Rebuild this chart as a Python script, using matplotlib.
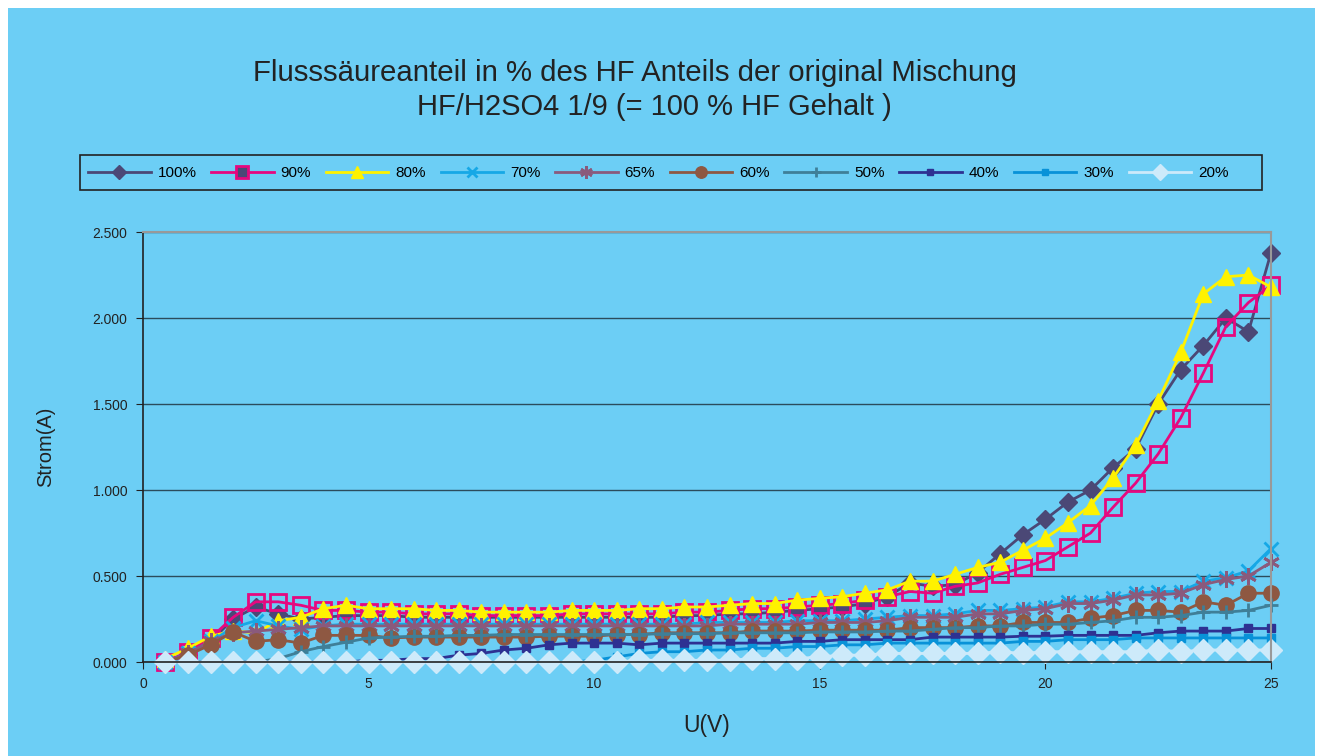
import matplotlib
matplotlib.use("Agg")
import matplotlib.pyplot as plt
from matplotlib.lines import Line2D
from matplotlib.patches import Rectangle
from matplotlib.ticker import FormatStrFormatter, MultipleLocator

plt.rcParams['font.family'] = ['Liberation Sans', 'DejaVu Sans']

# voltage steps (V)
u = [0.5, 1.0, 1.5, 2.0, 2.5, 3.0, 3.5, 4.0, 4.5, 5.0,
     5.5, 6.0, 6.5, 7.0, 7.5, 8.0, 8.5, 9.0, 9.5, 10.0,
     10.5, 11.0, 11.5, 12.0, 12.5, 13.0, 13.5, 14.0, 14.5, 15.0,
     15.5, 16.0, 16.5, 17.0, 17.5, 18.0, 18.5, 19.0, 19.5, 20.0,
     20.5, 21.0, 21.5, 22.0, 22.5, 23.0, 23.5, 24.0, 24.5, 25.0]

# current (A) per HF share
i100 = [0.00, 0.04, 0.12, 0.25, 0.32, 0.28, 0.25, 0.26, 0.27, 0.27,
        0.27, 0.26, 0.26, 0.26, 0.26, 0.26, 0.26, 0.26, 0.26, 0.26,
        0.26, 0.26, 0.26, 0.27, 0.27, 0.28, 0.28, 0.29, 0.30, 0.31,
        0.32, 0.34, 0.38, 0.46, 0.44, 0.45, 0.52, 0.63, 0.74, 0.83,
        0.93, 1.00, 1.13, 1.24, 1.50, 1.70, 1.84, 2.00, 1.92, 2.38]
i90 = [0.00, 0.06, 0.14, 0.26, 0.35, 0.35, 0.33, 0.30, 0.30, 0.29,
       0.29, 0.28, 0.28, 0.28, 0.27, 0.27, 0.27, 0.27, 0.28, 0.28,
       0.28, 0.28, 0.28, 0.29, 0.29, 0.30, 0.31, 0.31, 0.32, 0.33,
       0.34, 0.36, 0.38, 0.41, 0.40, 0.44, 0.46, 0.51, 0.55, 0.59,
       0.67, 0.75, 0.90, 1.04, 1.21, 1.42, 1.68, 1.95, 2.09, 2.19]
i80 = [0.02, 0.08, 0.15, 0.18, 0.17, 0.24, 0.26, 0.31, 0.33, 0.31,
       0.31, 0.31, 0.30, 0.30, 0.29, 0.29, 0.29, 0.29, 0.30, 0.30,
       0.30, 0.31, 0.31, 0.32, 0.32, 0.33, 0.34, 0.34, 0.36, 0.37,
       0.38, 0.40, 0.42, 0.47, 0.47, 0.51, 0.55, 0.58, 0.65, 0.72,
       0.81, 0.91, 1.07, 1.26, 1.52, 1.80, 2.14, 2.24, 2.25, 2.18]
i70 = [0.00, 0.05, 0.12, 0.20, 0.24, 0.21, 0.19, 0.21, 0.22, 0.22,
       0.22, 0.22, 0.22, 0.22, 0.22, 0.22, 0.22, 0.22, 0.22, 0.22,
       0.22, 0.22, 0.22, 0.22, 0.23, 0.23, 0.23, 0.23, 0.24, 0.24,
       0.24, 0.25, 0.26, 0.27, 0.27, 0.28, 0.30, 0.30, 0.31, 0.32,
       0.35, 0.35, 0.37, 0.40, 0.41, 0.41, 0.47, 0.49, 0.53, 0.66]
i65 = [0.00, 0.05, 0.12, 0.17, 0.18, 0.19, 0.20, 0.21, 0.21, 0.21,
       0.21, 0.21, 0.21, 0.21, 0.21, 0.21, 0.21, 0.21, 0.21, 0.21,
       0.21, 0.21, 0.21, 0.21, 0.21, 0.22, 0.22, 0.22, 0.22, 0.23,
       0.23, 0.23, 0.24, 0.26, 0.26, 0.26, 0.28, 0.28, 0.30, 0.31,
       0.34, 0.34, 0.36, 0.39, 0.39, 0.40, 0.45, 0.48, 0.50, 0.58]
i60 = [0.00, 0.04, 0.10, 0.175, 0.12, 0.13, 0.11, 0.155, 0.155, 0.155,
       0.14, 0.145, 0.145, 0.145, 0.145, 0.145, 0.145, 0.15, 0.15, 0.15,
       0.16, 0.16, 0.17, 0.17, 0.17, 0.17, 0.18, 0.18, 0.18, 0.185,
       0.185, 0.185, 0.185, 0.20, 0.20, 0.20, 0.21, 0.21, 0.23, 0.23,
       0.23, 0.255, 0.27, 0.30, 0.30, 0.29, 0.35, 0.33, 0.40, 0.40]
i50 = [0.00, 0.00, 0.00, 0.00, 0.00, 0.02, 0.06, 0.09, 0.115, 0.14,
       0.145, 0.15, 0.15, 0.155, 0.155, 0.16, 0.16, 0.16, 0.16, 0.16,
       0.16, 0.16, 0.165, 0.165, 0.165, 0.17, 0.17, 0.17, 0.17, 0.175,
       0.175, 0.175, 0.18, 0.18, 0.19, 0.20, 0.20, 0.21, 0.21, 0.22,
       0.22, 0.23, 0.24, 0.26, 0.26, 0.27, 0.29, 0.29, 0.30, 0.33]
i40 = [0.00, 0.00, 0.00, 0.00, 0.00, 0.00, 0.00, 0.00, 0.00, 0.01,
       0.01, 0.02, 0.02, 0.04, 0.05, 0.07, 0.08, 0.10, 0.11, 0.11,
       0.11, 0.10, 0.11, 0.11, 0.11, 0.11, 0.11, 0.11, 0.12, 0.12,
       0.13, 0.13, 0.13, 0.13, 0.145, 0.145, 0.145, 0.145, 0.15, 0.15,
       0.155, 0.155, 0.155, 0.155, 0.17, 0.18, 0.18, 0.18, 0.195, 0.195]
i30 = [0.00, 0.00, 0.00, 0.00, 0.00, 0.00, 0.00, 0.00, 0.00, 0.00,
       0.00, 0.00, 0.00, 0.00, 0.00, 0.00, 0.00, 0.00, 0.00, 0.01,
       0.03, 0.05, 0.06, 0.06, 0.07, 0.07, 0.08, 0.08, 0.09, 0.09,
       0.10, 0.10, 0.11, 0.11, 0.11, 0.11, 0.11, 0.11, 0.12, 0.12,
       0.13, 0.13, 0.13, 0.14, 0.14, 0.14, 0.14, 0.14, 0.14, 0.14]
i20 = [0.00, 0.00, 0.00, 0.00, 0.00, 0.00, 0.00, 0.00, 0.00, 0.00,
       0.00, 0.00, 0.00, 0.00, 0.00, 0.00, 0.00, 0.00, 0.00, 0.00,
       0.00, 0.01, 0.01, 0.01, 0.01, 0.01, 0.02, 0.02, 0.02, 0.03,
       0.04, 0.04, 0.05, 0.05, 0.05, 0.05, 0.05, 0.06, 0.05, 0.06,
       0.06, 0.06, 0.06, 0.06, 0.07, 0.06, 0.07, 0.07, 0.07, 0.07]

labels = ['100%', '90%', '80%', '70%', '65%', '60%', '50%', '40%', '30%', '20%']
series = [i100, i90, i80, i70, i65, i60, i50, i40, i30, i20]

bg = '#6ccef5'
# (color, marker, size, facecolor)
styles = [
    ('#4b4876', 'D', 9, '#4b4876'),
    ('#e6087f', 's', 11, 'none'),
    ('#fff200', '^', 12, '#fff200'),
    ('#16a8e6', 'x', 10, '#16a8e6'),
    ('#8a5a7c', (6, 2, 0), 12, '#8a5a7c'),
    ('#8e5842', 'o', 11, '#8e5842'),
    ('#3f7f98', '+', 10, '#3f7f98'),
    ('#2e3192', 's', 6, '#2e3192'),
    ('#0892d8', 's', 6, '#0892d8'),
    ('#cdeafa', 'D', 11, '#cdeafa'),
]

fig = plt.figure(figsize=(13.23, 7.56), dpi=100)
fig.patch.set_facecolor('white')
fig.patches.append(Rectangle((8 / 1323, 0), 1 - 16 / 1323, 1 - 8 / 756,
                             transform=fig.transFigure, facecolor=bg,
                             edgecolor='none', zorder=-10))
# legend frame spans the full width like in Excel
fig.patches.append(Rectangle((80 / 1323, 1 - 190 / 756), 1182 / 1323, 35 / 756,
                             transform=fig.transFigure, facecolor='none',
                             edgecolor='#222222', lw=1.2, zorder=-5))

ax = fig.add_axes([0.108, 0.1243, 0.8527, 0.5688])
ax.set_facecolor(bg)

handles = []
for vals, lab, (col, mk, ms, fc) in zip(series, labels, styles):
    mew = 2 if (fc == 'none' or mk in ('x', '+', (6, 2, 0))) else 1
    ax.plot(u, vals, color=col, lw=2, marker=mk, ms=ms, mfc=fc, mec=col,
            mew=mew, clip_on=False)
    # Excel legend shows the 90% square filled dark
    lfc = '#4b4876' if lab == '90%' else fc
    handles.append(Line2D([], [], color=col, lw=2, marker=mk, ms=ms * 0.75,
                          mfc=lfc, mec=col, mew=mew))

ax.set_xlim(0, 25)
ax.set_ylim(0, 2.5)
ax.xaxis.set_major_locator(MultipleLocator(5))
ax.yaxis.set_major_locator(MultipleLocator(0.5))
ax.yaxis.set_major_formatter(FormatStrFormatter('%.3f'))
ax.grid(axis='y', color='#2b4c5c', lw=1)
ax.set_axisbelow(True)

for s in ('top', 'right'):
    ax.spines[s].set_color('#999999')
    ax.spines[s].set_linewidth(1.5)
for s in ('left', 'bottom'):
    ax.spines[s].set_color('#222222')
    ax.spines[s].set_linewidth(1.2)
ax.tick_params(axis='both', direction='out', length=5, color='#222222',
               labelsize=10, labelcolor='#222222', pad=6)

ax.set_xlabel('U(V)', fontsize=16.5, color='#222222', labelpad=16)
ax.set_ylabel('Strom(A)', fontsize=14.5, color='#222222', labelpad=27)

fig.text(635 / 1323, 1 - 73 / 756,
         'Flusssäureanteil in % des HF Anteils der original Mischung',
         ha='center', va='center', fontsize=21.2, color='#222222')
fig.text(654 / 1323, 1 - 107 / 756,
         'HF/H2SO4 1/9 (= 100 % HF Gehalt )',
         ha='center', va='center', fontsize=21, color='#222222')

leg = fig.legend(handles, labels, ncol=10, loc='center left',
                 bbox_to_anchor=(88 / 1323, 1 - 173 / 756),
                 fontsize=11, handlelength=4.1, handletextpad=0.45,
                 columnspacing=0.96, borderaxespad=0, borderpad=0,
                 frameon=False)

fig.savefig('out.png', dpi=100, facecolor=fig.get_facecolor())
